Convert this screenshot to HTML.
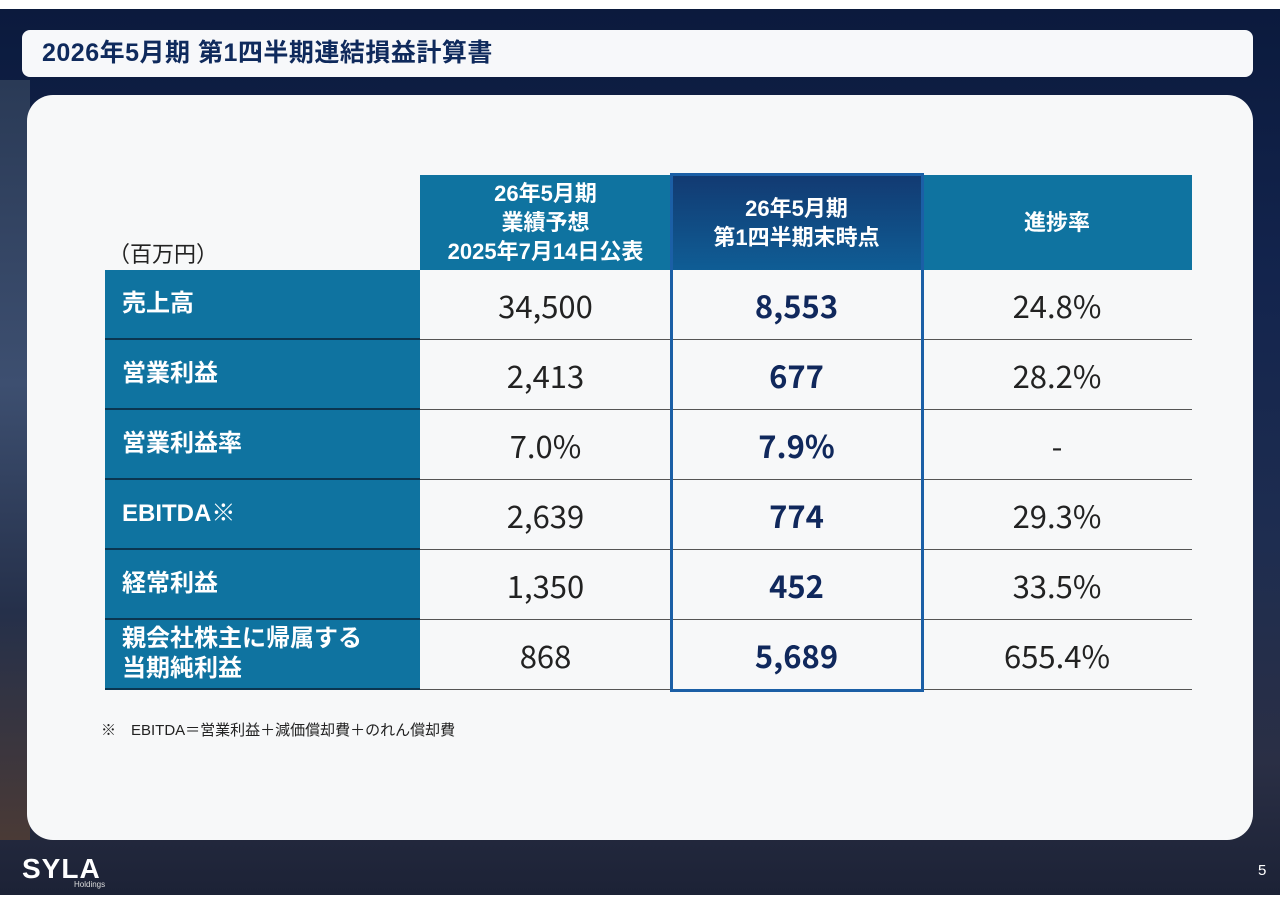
<!DOCTYPE html>
<html><head><meta charset="utf-8"><style>
*{margin:0;padding:0;box-sizing:border-box}
body{width:1280px;height:905px;background:#fff;position:relative;overflow:hidden;font-family:"Liberation Sans","Noto Sans CJK JP",sans-serif}
.bg{position:absolute;left:0;top:9px;width:1280px;height:886px;background:linear-gradient(180deg,#0b1a3d 0%,#13244d 30%,#1e2d50 60%,#2a2f45 85%,#1c2236 100%)}
.bgl{position:absolute;left:0;top:80px;width:30px;height:760px;background:linear-gradient(180deg,#2a3a56,#3d4f70 40%,#25304a 70%,#4a3a36)}
.title{position:absolute;left:22px;top:30px;width:1231px;height:47px;background:#f7f8fa;border-radius:8px;color:#0f2a5c;font-weight:bold;font-size:25px;line-height:47px;padding-left:20px;letter-spacing:0.5px}
.card{position:absolute;left:27px;top:95px;width:1226px;height:745px;background:#f7f8f9;border-radius:26px}
.unit{position:absolute;left:108px;top:237px;font-size:22px;color:#222}
.c{position:absolute;display:flex;align-items:center;justify-content:center;text-align:center}
.h{background:#0f73a0;color:#fff;font-weight:bold;font-size:22px;line-height:29px}
.lab{background:#0f73a0;color:#fff;font-weight:bold;font-size:24px;justify-content:flex-start;padding-left:17px;text-align:left;line-height:30px;border-bottom:2px solid #0a3550}
.v{font-size:31px;color:#222;border-bottom:1.5px solid #555;font-family:"Noto Sans CJK JP","Liberation Sans",sans-serif}
.b{font-weight:bold;color:#10285c}
.note{position:absolute;left:101px;top:719px;font-size:15px;color:#222}
.hl{position:absolute;left:670px;top:173px;width:254px;height:519px;border:3px solid #1b5fa6}
.logo{position:absolute;left:22px;top:853px;color:#fff;font-weight:bold;font-size:28px;letter-spacing:1px}
.hold{position:absolute;left:74px;top:880px;color:#ddd;font-size:8px}
.pg{position:absolute;left:1258px;top:862px;color:#fff;font-size:15px}
</style></head><body>
<div class="bg"></div><div class="bgl"></div>
<div class="title">2026年5月期 第1四半期連結損益計算書</div>
<div class="card"></div>
<div class="unit">（百万円）</div>
<div class="c h" style="left:420px;top:175px;width:251px;height:95px">26年5月期<br>業績予想<br>2025年7月14日公表</div>
<div class="c h" style="left:671px;top:175px;width:251px;height:95px;background:linear-gradient(180deg,#123a72,#0f5d95)">26年5月期<br>第1四半期末時点</div>
<div class="c h" style="left:922px;top:175px;width:270px;height:95px">進捗率</div>

<div class="c lab" style="left:105px;top:270px;width:315px;height:70px">売上高</div>
<div class="c lab" style="left:105px;top:340px;width:315px;height:70px">営業利益</div>
<div class="c lab" style="left:105px;top:410px;width:315px;height:70px">営業利益率</div>
<div class="c lab" style="left:105px;top:480px;width:315px;height:70px">EBITDA※</div>
<div class="c lab" style="left:105px;top:550px;width:315px;height:70px">経常利益</div>
<div class="c lab" style="left:105px;top:620px;width:315px;height:70px">親会社株主に帰属する<br>当期純利益</div>

<div class="c v" style="left:420px;top:270px;width:251px;height:70px">34,500</div>
<div class="c v b" style="left:671px;top:270px;width:251px;height:70px">8,553</div>
<div class="c v" style="left:922px;top:270px;width:270px;height:70px">24.8%</div>
<div class="c v" style="left:420px;top:340px;width:251px;height:70px">2,413</div>
<div class="c v b" style="left:671px;top:340px;width:251px;height:70px">677</div>
<div class="c v" style="left:922px;top:340px;width:270px;height:70px">28.2%</div>
<div class="c v" style="left:420px;top:410px;width:251px;height:70px">7.0%</div>
<div class="c v b" style="left:671px;top:410px;width:251px;height:70px">7.9%</div>
<div class="c v" style="left:922px;top:410px;width:270px;height:70px">-</div>
<div class="c v" style="left:420px;top:480px;width:251px;height:70px">2,639</div>
<div class="c v b" style="left:671px;top:480px;width:251px;height:70px">774</div>
<div class="c v" style="left:922px;top:480px;width:270px;height:70px">29.3%</div>
<div class="c v" style="left:420px;top:550px;width:251px;height:70px">1,350</div>
<div class="c v b" style="left:671px;top:550px;width:251px;height:70px">452</div>
<div class="c v" style="left:922px;top:550px;width:270px;height:70px">33.5%</div>
<div class="c v" style="left:420px;top:620px;width:251px;height:70px">868</div>
<div class="c v b" style="left:671px;top:620px;width:251px;height:70px">5,689</div>
<div class="c v" style="left:922px;top:620px;width:270px;height:70px">655.4%</div>
<div class="hl"></div>
<div class="note">※　EBITDA＝営業利益＋減価償却費＋のれん償却費</div>
<div class="logo">SYLA</div><div class="hold">Holdings</div>
<div class="pg">5</div>
</body></html>
